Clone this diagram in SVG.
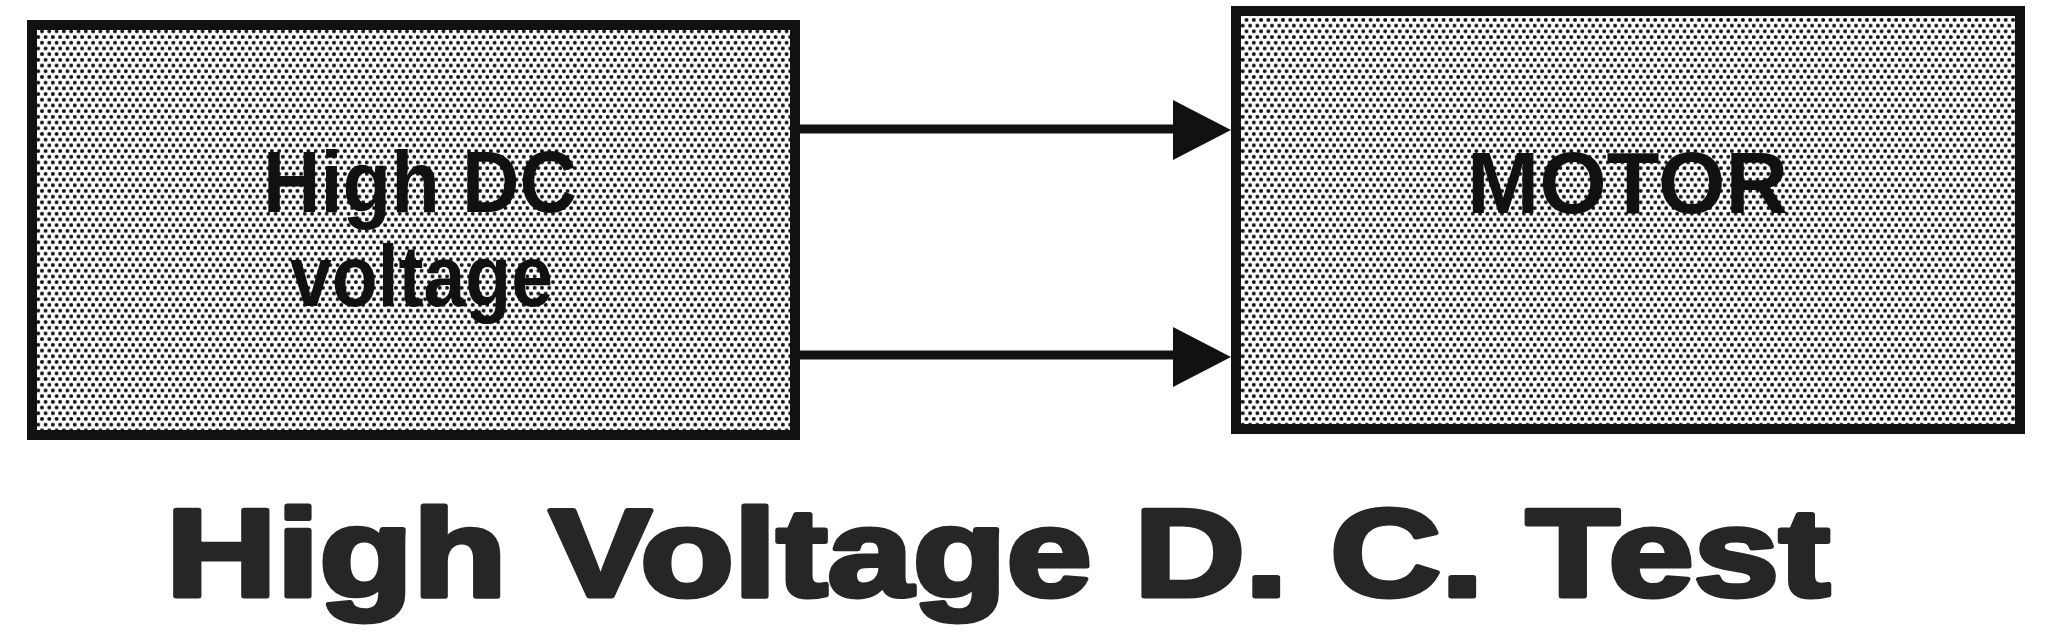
<svg xmlns="http://www.w3.org/2000/svg" width="2069" height="642" viewBox="0 0 2069 642">
<style>
.box{fill:url(#dots);stroke:#111;stroke-width:10}
.lbl{font-family:"Liberation Sans",Arial,sans-serif;font-weight:bold;font-size:88px;fill:#111}
.wire{stroke:#111;stroke-width:9;fill:none}
.head{fill:#111}
.title{font-family:"Liberation Sans",Arial,sans-serif;font-weight:bold;font-size:124px;fill:#262626;stroke:#262626;stroke-width:5;stroke-linejoin:round}
</style>
<defs>
<pattern id="dots" patternUnits="userSpaceOnUse" width="7.3" height="11.4">
<rect width="7.3" height="11.4" fill="#fff"/>
<circle cx="1.8" cy="2.8" r="1.95" fill="#111"/>
<circle cx="5.45" cy="8.5" r="1.95" fill="#111"/>
</pattern>
</defs>
<rect width="2069" height="642" fill="#fff"/>
<g id="node-hv">
<rect class="box" x="32" y="25" width="763" height="410"/>
<text class="lbl" x="263" y="212" textLength="314" lengthAdjust="spacingAndGlyphs">High DC</text>
<text class="lbl" x="290" y="306" textLength="263" lengthAdjust="spacingAndGlyphs">voltage</text>
</g>
<g id="node-motor">
<rect class="box" x="1236" y="11" width="784" height="418"/>
<text class="lbl" x="1467" y="213" textLength="321" lengthAdjust="spacingAndGlyphs">MOTOR</text>
</g>
<g id="connectors">
<line class="wire" x1="800" y1="129" x2="1180" y2="129"/>
<polygon class="head" points="1173,100 1231,130 1173,160"/>
<line class="wire" x1="800" y1="355" x2="1180" y2="355"/>
<polygon class="head" points="1173,327 1231,357 1173,387"/>
</g>
<text id="title" class="title" x="166" y="596" textLength="1664" lengthAdjust="spacingAndGlyphs">High Voltage D. C. Test</text>
</svg>
